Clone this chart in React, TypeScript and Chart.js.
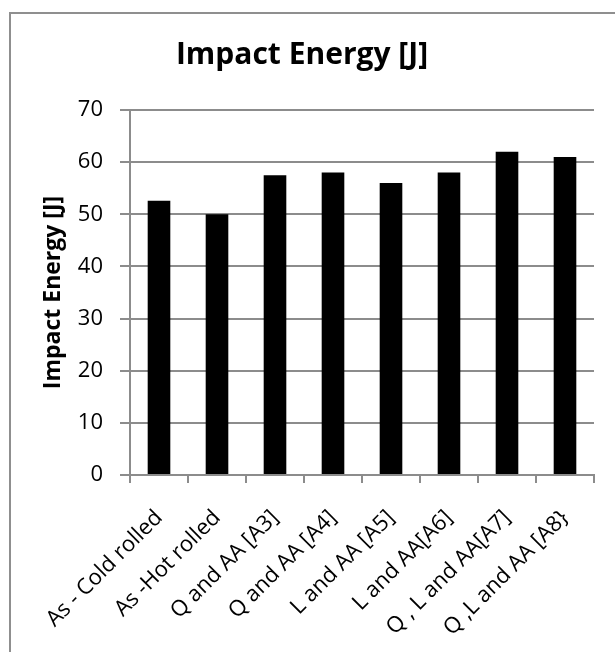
import { useEffect, useRef } from "react";
import { Chart, registerables } from "chart.js";

Chart.register(...registerables);

const categories = [
  "As - Cold rolled",
  "As -Hot rolled",
  "Q and AA [A3]",
  "Q and AA [A4]",
  "L and AA [A5]",
  "L and AA[A6]",
  "Q , L and AA[A7]",
  "Q ,L and AA [A8}",
];
const impactEnergy = [52.6, 50, 57.5, 58, 56, 58, 62, 61];
const yMin = 0;
const yMax = 70;
const yStep = 10;
const chartTitle = "Impact Energy [J]";
const yAxisTitle = "Impact Energy [J]";

const FONT = "'Open Sans', 'Liberation Sans', sans-serif";
const GRID = "#8c8c8c";

const borderPlugin = {
  id: "outerBorder",
  beforeDraw(chart: any) {
    const ctx = chart.ctx;
    ctx.save();
    ctx.fillStyle = "#ffffff";
    ctx.fillRect(0, 0, chart.width, chart.height);
    ctx.strokeStyle = "#8f8f8f";
    ctx.lineWidth = 2;
    ctx.beginPath();
    ctx.moveTo(10, chart.height + 5);
    ctx.lineTo(10, 13);
    ctx.lineTo(chart.width + 5, 13);
    ctx.stroke();
    ctx.restore();
  },
};

export default function App() {
  const ref = useRef<HTMLCanvasElement | null>(null);
  useEffect(() => {
    if (!ref.current) return;
    const chart = new Chart(ref.current, {
      type: "bar",
      data: {
        labels: categories,
        datasets: [
          {
            label: yAxisTitle,
            data: impactEnergy,
            backgroundColor: "#000000",
            borderWidth: 0,
            categoryPercentage: 1,
            barPercentage: 0.39,
          },
        ],
      },
      plugins: [borderPlugin],
      options: {
        responsive: false,
        animation: false,
        devicePixelRatio: 1,
        layout: { padding: { left: 10, right: 21, top: 0, bottom: 0 } },
        plugins: {
          legend: { display: false },
          tooltip: { enabled: false },
          title: {
            display: true,
            text: chartTitle,
            color: "#000000",
            font: { family: FONT, size: 30, weight: "bold", lineHeight: 1.2 },
            padding: { top: 37, bottom: 37 },
          },
        },
        scales: {
          x: {
            offset: true,
            grid: {
              display: true,
              drawOnChartArea: false,
              drawTicks: true,
              tickLength: 8,
              color: GRID,
              lineWidth: 2,
              offset: true,
            },
            border: { display: true, color: GRID, width: 2 },
            ticks: {
              color: "#000000",
              font: { family: FONT, size: 22 },
              minRotation: 45,
              maxRotation: 45,
              autoSkip: false,
              padding: 22,
            },
            afterFit: (s: any) => {
              s.height = 177;
            },
          },
          y: {
            min: yMin,
            max: yMax,
            ticks: {
              stepSize: yStep,
              color: "#000000",
              font: { family: FONT, size: 22 },
              padding: 17,
            },
            grid: {
              color: GRID,
              lineWidth: 2,
              tickLength: 10,
              drawTicks: true,
            },
            border: { display: true, color: GRID, width: 2 },
            title: {
              display: true,
              text: yAxisTitle,
              color: "#000000",
              font: { family: FONT, size: 23, weight: "bold", lineHeight: 1.2 },
              padding: { top: 30, bottom: 0 },
            },
            afterFit: (s: any) => {
              s.width = 120;
            },
          },
        },
      },
    });
    return () => chart.destroy();
  }, []);
  return (
    <div style={{ position: "fixed", left: 0, top: 0, width: 615, height: 652 }}>
      <canvas ref={ref} width={615} height={652} style={{ display: "block" }} />
    </div>
  );
}
